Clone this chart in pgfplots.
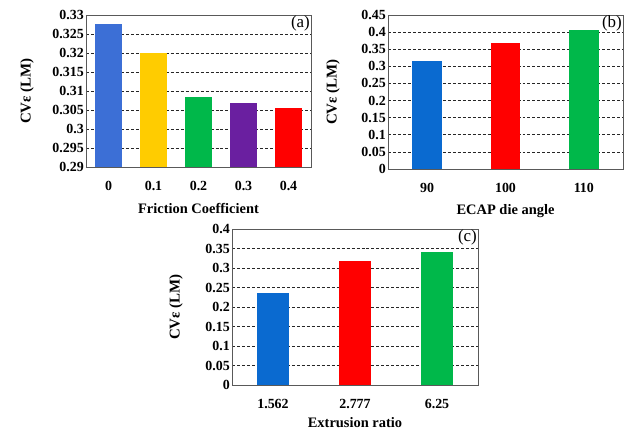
\documentclass[border=0pt]{standalone}
\usepackage{fontspec}
\setmainfont{Liberation Serif}
\usepackage{pgfplots}
\pgfplotsset{compat=1.18}
\definecolor{cBlueA}{HTML}{3C6FD6}
\definecolor{cGold}{HTML}{FFCC00}
\definecolor{cGreen}{HTML}{00B84A}
\definecolor{cPurple}{HTML}{6A1FA0}
\definecolor{cRed}{HTML}{FF0000}
\definecolor{cBlue}{HTML}{0A6AD0}
\pgfplotsset{
  panel/.style={
    scale only axis,
    anchor=south west,
    axis line style={gray!70!black, line width=0.8pt},
    major tick length=0pt,
    ymajorgrids,
    major grid style={black!85, dash pattern=on 3pt off 2pt, line width=0.7pt},
    tick label style={font=\fontsize{14}{16}\selectfont\bfseries},
    yticklabel style={inner xsep=2bp},
    xticklabel shift=11bp,
    xlabel style={font=\fontsize{14.5}{16}\selectfont\bfseries},
    ylabel style={font=\fontsize{15}{17}\selectfont\bfseries},
    xlabel shift=5bp,
    /pgf/number format/assume math mode=true,
    yticklabel style={/pgf/number format/fixed, /pgf/number format/precision=3},
    ylabel={CVε (LM)},
    clip=true,
  },
  mybar/.style={ybar, bar shift=0pt, draw=none, fill=#1},
}
\begin{document}
\begin{tikzpicture}
\path[use as bounding box] (0bp,0bp) rectangle (626bp,432bp);
% (a)
\begin{axis}[panel, at={(86bp,265bp)}, width=225bp, height=152bp,
  xmin=-0.5, xmax=4.5, ymin=0.29, ymax=0.33,
  ytick={0.29,0.295,0.3,0.305,0.31,0.315,0.32,0.325,0.33},
  xtick={0,1,2,3,4},
  xticklabels={0,0.1,0.2,0.3,0.4},
  ylabel shift=13bp,
  xlabel={Friction Coefficient}]
\addplot[mybar=cBlueA, bar width=0.62] coordinates {(0,0.3276)};
\addplot[mybar=cGold, bar width=0.62] coordinates {(1,0.3201)};
\addplot[mybar=cGreen, bar width=0.62] coordinates {(2,0.3083)};
\addplot[mybar=cPurple, bar width=0.62] coordinates {(3,0.3069)};
\addplot[mybar=cRed, bar width=0.62] coordinates {(4,0.3056)};
\node[anchor=north east, font=\fontsize{17}{19}\selectfont, inner sep=1pt] at (rel axis cs:1,1) {(a)};
\end{axis}
% (b)
\begin{axis}[panel, at={(388bp,263bp)}, width=235bp, height=154bp,
  xmin=-0.5, xmax=2.5, ymin=0, ymax=0.45,
  ytick={0,0.05,0.1,0.15,0.2,0.25,0.3,0.35,0.4,0.45},
  xtick={0,1,2},
  xticklabels={90,100,110},
  ylabel shift=16bp,
  xlabel={ECAP die angle}]
\addplot[mybar=cBlue, bar width=0.38] coordinates {(0,0.317)};
\addplot[mybar=cRed, bar width=0.38] coordinates {(1,0.369)};
\addplot[mybar=cGreen, bar width=0.38] coordinates {(2,0.406)};
\node[anchor=north east, font=\fontsize{17}{19}\selectfont, inner sep=1pt] at (rel axis cs:1,1) {(b)};
\end{axis}
% (c)
\begin{axis}[panel, at={(232bp,47bp)}, width=246bp, height=156bp,
  xmin=-0.5, xmax=2.5, ymin=0, ymax=0.4,
  ytick={0,0.05,0.1,0.15,0.2,0.25,0.3,0.35,0.4},
  xtick={0,1,2},
  xticklabels={1.562,2.777,6.25},
  ylabel shift=17bp,
  xlabel shift=2bp,
  xlabel={Extrusion ratio}]
\addplot[mybar=cBlue, bar width=0.39] coordinates {(0,0.236)};
\addplot[mybar=cRed, bar width=0.39] coordinates {(1,0.319)};
\addplot[mybar=cGreen, bar width=0.39] coordinates {(2,0.342)};
\node[anchor=north east, font=\fontsize{17}{19}\selectfont, inner sep=1pt] at (rel axis cs:1,1) {(c)};
\end{axis}
\end{tikzpicture}
\end{document}
